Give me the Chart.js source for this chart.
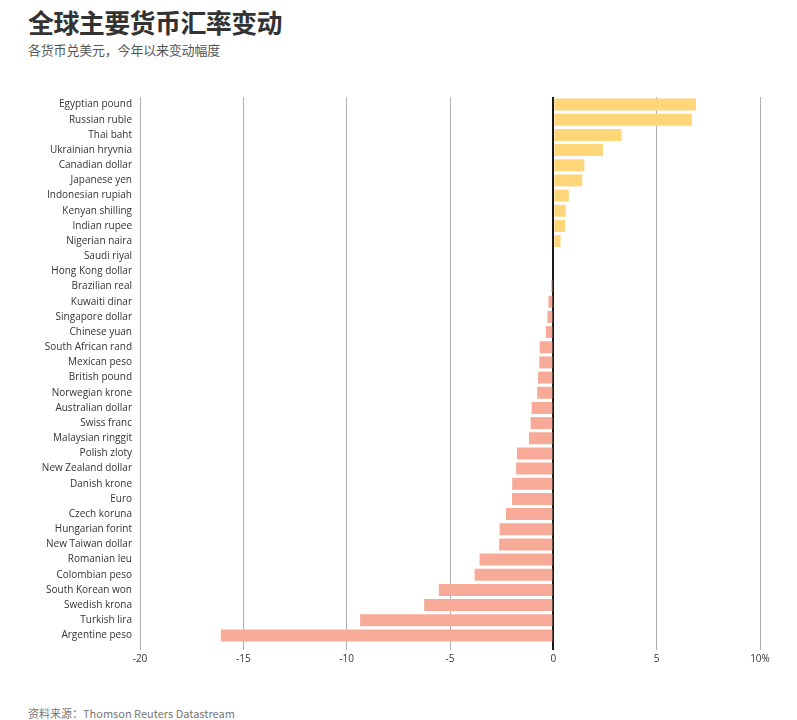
<!DOCTYPE html>
<html>
<head>
<meta charset="utf-8">
<script src="https://cdn.jsdelivr.net/npm/chart.js@4"></script>
<style>
  html, body { margin: 0; padding: 0; background: #fff; }
  body { width: 797px; height: 720px; position: relative; overflow: hidden;
         font-family: "Open Sans", "Noto Sans CJK SC", sans-serif; }
  .title { position: absolute; left: 28px; top: 3px; font-size: 26px; font-weight: bold;
           color: #333; font-family: "Noto Sans CJK SC", sans-serif; letter-spacing: -0.6px; }
  .sub { position: absolute; left: 28px; top: 40px; font-size: 13px; color: #555;
         font-family: "Noto Sans CJK SC", sans-serif; letter-spacing: -0.2px; }
  .src { position: absolute; left: 28px; top: 705px; font-size: 11px; color: #777;
         font-family: "Noto Sans CJK SC", "Open Sans", sans-serif; }
  .wrap { position: absolute; left: 0; top: 80px; width: 797px; height: 610px; }
</style>
</head>
<body>
<div class="title">全球主要货币汇率变动</div>
<div class="sub">各货币兑美元，今年以来变动幅度</div>
<div class="wrap"><canvas id="fxChart"></canvas></div>
<div class="src">资料来源：Thomson Reuters Datastream</div>

<script>
// ── data ──────────────────────────────────────
const currencies = [
  'Egyptian pound', 'Russian ruble', 'Thai baht', 'Ukrainian hryvnia', 'Canadian dollar',
  'Japanese yen', 'Indonesian rupiah', 'Kenyan shilling', 'Indian rupee', 'Nigerian naira',
  'Saudi riyal', 'Hong Kong dollar', 'Brazilian real', 'Kuwaiti dinar', 'Singapore dollar',
  'Chinese yuan', 'South African rand', 'Mexican peso', 'British pound', 'Norwegian krone',
  'Australian dollar', 'Swiss franc', 'Malaysian ringgit', 'Polish zloty', 'New Zealand dollar',
  'Danish krone', 'Euro', 'Czech koruna', 'Hungarian forint', 'New Taiwan dollar',
  'Romanian leu', 'Colombian peso', 'South Korean won', 'Swedish krona', 'Turkish lira',
  'Argentine peso',
];
const changePct = [
  6.9, 6.7, 3.3, 2.4, 1.5,
  1.4, 0.75, 0.6, 0.57, 0.35,
  0, 0, -0.1, -0.24, -0.29,
  -0.36, -0.66, -0.68, -0.74, -0.78,
  -1.05, -1.1, -1.18, -1.76, -1.8,
  -1.99, -2.0, -2.29, -2.6, -2.62,
  -3.57, -3.81, -5.54, -6.25, -9.35,
  -16.09,
];
const xTicks = [-20, -15, -10, -5, 0, 5, 10];

const UP = '#fed67a';
const DOWN = '#f7aa97';
const font = "'Open Sans', 'Noto Sans', sans-serif";

new Chart(document.getElementById('fxChart'), {
  type: 'bar',
  data: {
    labels: currencies,
    datasets: [{
      data: changePct,
      backgroundColor: changePct.map(v => v >= 0 ? UP : DOWN),
      borderWidth: 0,
      barPercentage: 0.79,
      categoryPercentage: 1,
    }],
  },
  options: {
    indexAxis: 'y',
    responsive: true,
    maintainAspectRatio: false,
    animation: false,
    layout: { padding: { top: 17, right: 37, left: 0, bottom: 0 } },
    plugins: { legend: { display: false }, tooltip: { enabled: false } },
    scales: {
      x: {
        min: -20,
        max: 10,
        afterBuildTicks: (s) => { s.ticks = xTicks.map(v => ({ value: v })); },
        afterFit: (s) => { s.height = 47; },
        ticks: {
          color: '#333',
          font: { size: 10, family: font },
          padding: 3,
          callback: (v) => v === 10 ? '10%' : v,
        },
        grid: {
          color: (c) => c.tick && c.tick.value === 0 ? '#1a1a1a' : '#b0b0b0',
          lineWidth: (c) => c.tick && c.tick.value === 0 ? 2 : 1,
          tickLength: 7,
        },
        border: { display: false },
      },
      y: {
        afterFit: (s) => { s.width = 140; },
        ticks: {
          color: '#333',
          autoSkip: false,
          font: { size: 10, family: font },
          padding: 8,
        },
        grid: { display: false, drawTicks: false },
        border: { display: false },
      },
    },
  },
});
</script>
</body>
</html>
